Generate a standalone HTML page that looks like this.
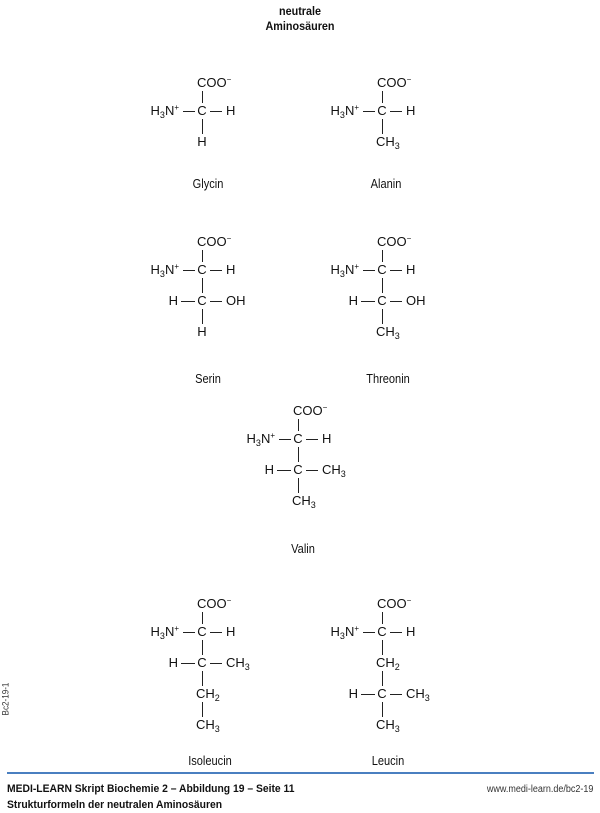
<!DOCTYPE html>
<html><head><meta charset="utf-8"><style>
body{margin:0;width:600px;height:813px;background:#fff;position:relative;overflow:hidden;font-family:"Liberation Sans",sans-serif;color:#111}
.t{position:absolute;font-size:13px;line-height:14px;white-space:nowrap}
.l{position:absolute;background:#222}
sub{font-size:9px;vertical-align:-3px;line-height:0}
sup{font-size:8px;vertical-align:5px;line-height:0}
.lab{position:absolute;font-size:13px;transform:translateX(-50%) scaleX(0.85)}
</style></head><body>
<div class="t" style="left:0;width:600px;text-align:center;top:4px;font-weight:bold;font-size:12px;line-height:15px;transform:scaleX(0.9)">neutrale<br>Aminosäuren</div>
<div id="c"></div>
<div class="lab" style="left:208px;top:176px">Glycin</div>
<div class="lab" style="left:386px;top:176px">Alanin</div>
<div class="lab" style="left:208px;top:371px">Serin</div>
<div class="lab" style="left:388px;top:371px">Threonin</div>
<div class="lab" style="left:303px;top:541px">Valin</div>
<div class="lab" style="left:210px;top:753px">Isoleucin</div>
<div class="lab" style="left:388px;top:753px">Leucin</div>
<div style="position:absolute;left:7px;top:772px;width:587px;height:2px;background:#4a7fc0"></div>
<div class="t" style="left:7px;top:782px;font-size:11px;font-weight:bold;transform:scaleX(0.94);transform-origin:left">MEDI-LEARN Skript Biochemie 2 – Abbildung 19 – Seite 11</div>
<div class="t" style="left:7px;top:798px;font-size:11px;font-weight:bold;transform:scaleX(0.94);transform-origin:left">Strukturformeln der neutralen Aminosäuren</div>
<div class="t" style="right:7px;top:783px;font-size:10px;color:#333;transform:scaleX(0.9);transform-origin:right">www.medi-learn.de/bc2-19</div>
<div class="t" style="left:-13px;top:692px;font-size:9px;transform:rotate(-90deg) scaleX(0.9);color:#333">Bc2-19-1</div>
<script>
var c=document.getElementById('c'),h='';
function T(x,y,s,align){
  if(align=='r') h+='<div class="t" style="right:'+(600-x)+'px;top:'+(y-7)+'px">'+s+'</div>';
  else if(align=='c') h+='<div class="t" style="left:'+(x-20)+'px;width:40px;text-align:center;top:'+(y-7)+'px">'+s+'</div>';
  else h+='<div class="t" style="left:'+x+'px;top:'+(y-7)+'px">'+s+'</div>';
}
function H(x1,x2,y){h+='<div class="l" style="left:'+x1+'px;top:'+y+'px;width:'+(x2-x1)+'px;height:1px"></div>';}
function V(x,y1,y2){h+='<div class="l" style="left:'+(x-0.5)+'px;top:'+y1+'px;width:1px;height:'+(y2-y1)+'px"></div>';}
function S(cx,y0,rows){
  y0+=1;
  T(cx-5,y0,'COO<sup>−</sup>');
  var y=y0+28;V(cx,y0+8,y-8);
  T(cx-23,y,'H<sub>3</sub>N<sup>+</sup>','r');H(cx-19,cx-7,y);T(cx,y,'C','c');H(cx+8,cx+20,y);T(cx+24,y,'H');
  for(var i=0;i<rows.length;i++){
    var ny=y+31;V(cx,y+8,ny-8);y=ny;var r=rows[i];
    if(r[0]=='HC'){T(cx-24,y,'H','r');H(cx-21,cx-7,y);T(cx,y,'C','c');H(cx+8,cx+20,y);T(cx+24,y,r[1]);}
    else if(r[0]=='H'){T(cx,y,'H','c');}
    else T(cx-6,y,r[0]);
  }
}
var CH3='CH<sub>3</sub>',CH2='CH<sub>2</sub>';
S(202,82,[['H']]);
S(382,82,[[CH3]]);
S(202,241,[['HC','OH'],['H']]);
S(382,241,[['HC','OH'],[CH3]]);
S(298,410,[['HC',CH3],[CH3]]);
S(202,603,[['HC',CH3],[CH2],[CH3]]);
S(382,603,[[CH2],['HC',CH3],[CH3]]);
c.innerHTML=h;
</script>
</body></html>
